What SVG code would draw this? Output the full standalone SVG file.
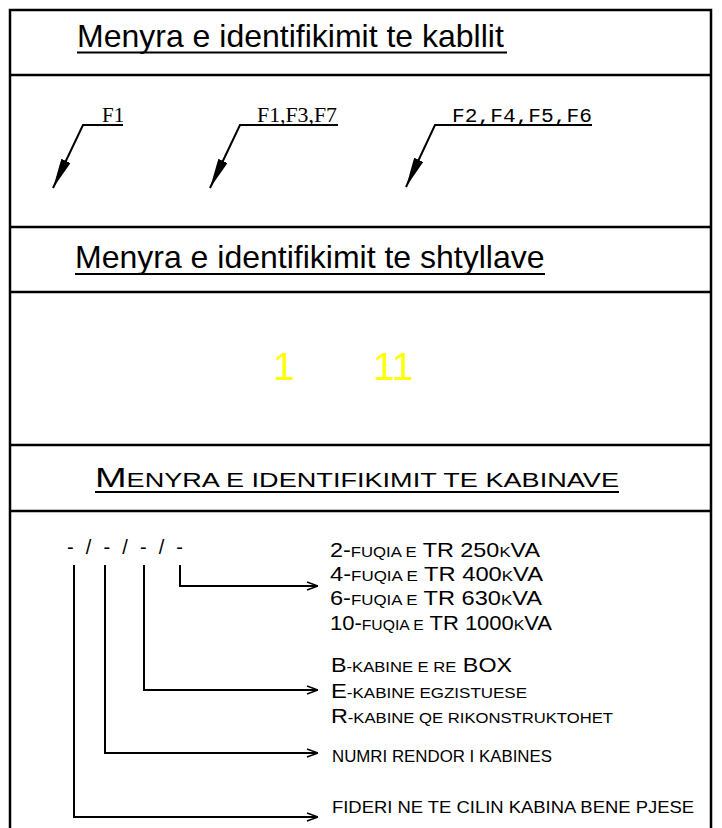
<svg xmlns="http://www.w3.org/2000/svg" width="722" height="828" viewBox="0 0 722 828">
<style>
.frame{fill:none;stroke:#000;stroke-width:2.5}
.sep{stroke:#000;stroke-width:2.5}
.ttl{font-family:"Liberation Sans",Arial,sans-serif;font-size:32px;fill:#000}
.ul{stroke:#000;stroke-width:2}
.ser{font-family:"Liberation Serif","Times New Roman",serif;font-size:21px;fill:#000}
.mono{font-family:"Liberation Mono","Courier New",monospace;font-size:21px;fill:#000}
.cad{font-family:"Liberation Sans",Arial,sans-serif;fill:#000}
.big{font-size:21px}
.sm{font-size:15px}
.yel{font-family:"Liberation Sans",Arial,sans-serif;font-size:39px;fill:#FFFF00}
.lead{fill:none;stroke:#000;stroke-width:2}
.conn{fill:none;stroke:#000;stroke-width:2}
</style>
<defs>
<marker id="fa" viewBox="0 0 30 10" refX="30" refY="5" markerWidth="30" markerHeight="10" orient="auto" markerUnits="userSpaceOnUse"><path d="M0,0 L30,5 L0,10 Z" fill="#000"/></marker>
<marker id="oa" viewBox="0 0 12 10" refX="12" refY="5" markerWidth="12" markerHeight="10" orient="auto" markerUnits="userSpaceOnUse"><path d="M1,1 L12,5 L1,9" fill="none" stroke="#000" stroke-width="1.6"/></marker>
</defs>
<rect width="722" height="828" fill="#fff"/>
<g id="frame">
<path class="frame" d="M10,828 L10,10 L711,10 L711,828"/>
<line class="sep" x1="10" y1="75" x2="711" y2="75"/>
<line class="sep" x1="10" y1="227" x2="711" y2="227"/>
<line class="sep" x1="10" y1="292" x2="711" y2="292"/>
<line class="sep" x1="10" y1="445" x2="711" y2="445"/>
<line class="sep" x1="10" y1="511" x2="711" y2="511"/>
</g>
<g id="title-kabllit">
<text class="ttl" x="77" y="47">Menyra e identifikimit te kabllit</text>
<line class="ul" x1="77" y1="52.5" x2="507" y2="52.5"/>
</g>
<g id="label-f1">
<text class="ser" x="102" y="122">F1</text>
</g>
<g id="label-f1f3f7">
<text class="ser" x="257" y="122" textLength="80" lengthAdjust="spacingAndGlyphs">F1,F3,F7</text>
</g>
<g id="label-f2f4f5f6">
<text class="mono" x="452" y="122" textLength="140" lengthAdjust="spacingAndGlyphs">F2,F4,F5,F6</text>
</g>
<g id="title-shtyllave">
<text class="ttl" x="75" y="268">Menyra e identifikimit te shtyllave</text>
<line class="ul" x1="75" y1="274" x2="545" y2="274"/>
</g>
<g id="pole-numbers">
<text class="yel" x="273" y="380">1</text>
<text class="yel" x="373" y="380">11</text>
</g>
<g id="title-kabinave">
<text class="cad" x="95" y="487" textLength="524" lengthAdjust="spacingAndGlyphs"><tspan style="font-size:28px">M</tspan><tspan style="font-size:20px">ENYRA E IDENTIFIKIMIT TE KABINAVE</tspan></text>
<line class="ul" x1="95" y1="492" x2="619" y2="492"/>
</g>
<g id="code-pattern">
<text class="cad" x="67" y="554" style="font-size:20px" textLength="116" lengthAdjust="spacing">- / - / - / -</text>
</g>
<g id="desc-power">
<text class="cad" x="330" y="557" textLength="210" lengthAdjust="spacingAndGlyphs"><tspan class="big">2-</tspan><tspan class="sm">FUQIA E</tspan><tspan class="big"> TR 250</tspan><tspan class="sm">K</tspan><tspan class="big">VA</tspan></text>
<text class="cad" x="330" y="581" textLength="213" lengthAdjust="spacingAndGlyphs"><tspan class="big">4-</tspan><tspan class="sm">FUQIA E</tspan><tspan class="big"> TR 400</tspan><tspan class="sm">K</tspan><tspan class="big">VA</tspan></text>
<text class="cad" x="330" y="605" textLength="212" lengthAdjust="spacingAndGlyphs"><tspan class="big">6-</tspan><tspan class="sm">FUQIA E</tspan><tspan class="big"> TR 630</tspan><tspan class="sm">K</tspan><tspan class="big">VA</tspan></text>
<text class="cad" x="330" y="630" textLength="222" lengthAdjust="spacingAndGlyphs"><tspan class="big">10-</tspan><tspan class="sm">FUQIA E</tspan><tspan class="big"> TR 1000</tspan><tspan class="sm">K</tspan><tspan class="big">VA</tspan></text>
</g>
<g id="desc-type">
<text class="cad" x="331" y="672" textLength="181" lengthAdjust="spacingAndGlyphs"><tspan class="big">B</tspan><tspan class="sm">-KABINE E RE</tspan><tspan class="big"> BOX</tspan></text>
<text class="cad" x="331" y="698" textLength="196" lengthAdjust="spacingAndGlyphs"><tspan class="big">E</tspan><tspan class="sm">-KABINE EGZISTUESE</tspan></text>
<text class="cad" x="331" y="723" textLength="282" lengthAdjust="spacingAndGlyphs"><tspan class="big">R</tspan><tspan class="sm">-KABINE QE RIKONSTRUKTOHET</tspan></text>
</g>
<g id="desc-number">
<text class="cad" x="332" y="762" style="font-size:16px" textLength="220" lengthAdjust="spacingAndGlyphs">NUMRI RENDOR I KABINES</text>
</g>
<g id="desc-feeder">
<text class="cad" x="332" y="813" style="font-size:16px" textLength="362" lengthAdjust="spacingAndGlyphs">FIDERI NE TE CILIN KABINA BENE PJESE</text>
</g>
<g id="connectors">
<polyline class="lead" points="123,125 83,125 53,188" marker-end="url(#fa)"/>
<polyline class="lead" points="338,125 240,125 210,188" marker-end="url(#fa)"/>
<polyline class="lead" points="592,125 435,125 406,187" marker-end="url(#fa)"/>
<polyline class="conn" points="180,565 180,586 318,586" marker-end="url(#oa)"/>
<polyline class="conn" points="144,565 144,690 318,690" marker-end="url(#oa)"/>
<polyline class="conn" points="105,565 105,753 318,753" marker-end="url(#oa)"/>
<polyline class="conn" points="74,565 74,817 318,817" marker-end="url(#oa)"/>
</g>
</svg>
